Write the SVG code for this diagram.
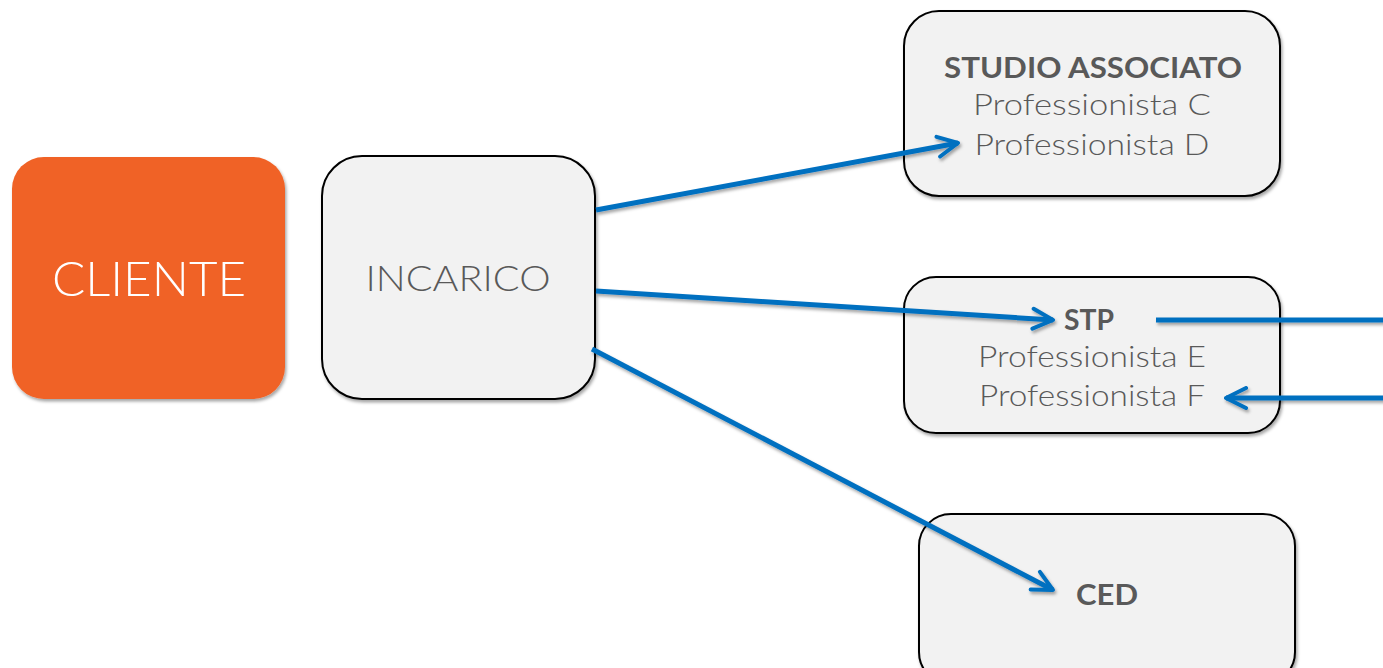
<svg xmlns="http://www.w3.org/2000/svg" width="1383" height="668" viewBox="0 0 1383 668">
<defs>
<style>
.box{fill:#F2F2F2;stroke:#000;stroke-width:2}
.t{font-family:"Lato","Noto Sans","Liberation Sans",sans-serif;fill:#595959;text-anchor:middle;font-weight:300}
.b{font-weight:bold}
.c{stroke:#0070C0;stroke-width:5;fill:none}
</style>
<filter id="sh" filterUnits="userSpaceOnUse" x="0" y="0" width="1383" height="668">
<feDropShadow dx="1.5" dy="2.5" stdDeviation="1.5" flood-color="#000" flood-opacity="0.35"/>
</filter>
<marker id="ar" viewBox="0 0 10 10" refX="9" refY="5" markerWidth="5" markerHeight="5" orient="auto" markerUnits="strokeWidth">
<polyline points="1,1 9,5 1,9" fill="none" stroke="#0070C0" stroke-width="1.6" stroke-linecap="round" stroke-linejoin="round"/>
</marker>
</defs>
<g id="cliente">
<rect x="12" y="157" width="273" height="242" rx="32" fill="#F06225" filter="url(#sh)"/>
<text x="149" y="296" font-family="Lato,'Noto Sans','Liberation Sans',sans-serif" font-weight="300" font-size="48" fill="#fff" text-anchor="middle" textLength="194" lengthAdjust="spacingAndGlyphs">CLIENTE</text>
</g>
<g id="incarico">
<rect class="box" x="322" y="156" width="273" height="243" rx="40" filter="url(#sh)"/>
<text class="t" x="458" y="291" font-size="36" textLength="185" lengthAdjust="spacingAndGlyphs">INCARICO</text>
</g>
<g id="studio">
<rect class="box" x="904" y="11" width="376" height="185" rx="35" filter="url(#sh)"/>
<text class="t b" x="1093" y="78" font-size="29" textLength="298" lengthAdjust="spacingAndGlyphs">STUDIO ASSOCIATO</text>
<text class="t" x="1092" y="115" font-size="30" textLength="238" lengthAdjust="spacingAndGlyphs">Professionista C</text>
<text class="t" x="1092" y="155" font-size="30" textLength="235" lengthAdjust="spacingAndGlyphs">Professionista D</text>
</g>
<g id="stp">
<rect class="box" x="904" y="277" width="376" height="156" rx="32" filter="url(#sh)"/>
<text class="t b" x="1089" y="330" font-size="29" textLength="50" lengthAdjust="spacingAndGlyphs">STP</text>
<text class="t" x="1092" y="367" font-size="30" textLength="228" lengthAdjust="spacingAndGlyphs">Professionista E</text>
<text class="t" x="1092" y="406" font-size="30" textLength="226" lengthAdjust="spacingAndGlyphs">Professionista F</text>
</g>
<g id="ced">
<rect class="box" x="919" y="514" width="376" height="170" rx="32" filter="url(#sh)"/>
<text class="t b" x="1107" y="605" font-size="29" textLength="62" lengthAdjust="spacingAndGlyphs">CED</text>
</g>
<g id="connectors" filter="url(#sh)">
<line class="c" x1="596" y1="210" x2="958" y2="143" marker-end="url(#ar)"/>
<line class="c" x1="596" y1="291" x2="1053" y2="320" marker-end="url(#ar)"/>
<line class="c" x1="592" y1="349" x2="1053" y2="590" marker-end="url(#ar)"/>
<line class="c" x1="1156" y1="320" x2="1385" y2="320"/>
<line class="c" x1="1385" y1="398" x2="1226" y2="398" marker-end="url(#ar)"/>
</g>
</svg>
